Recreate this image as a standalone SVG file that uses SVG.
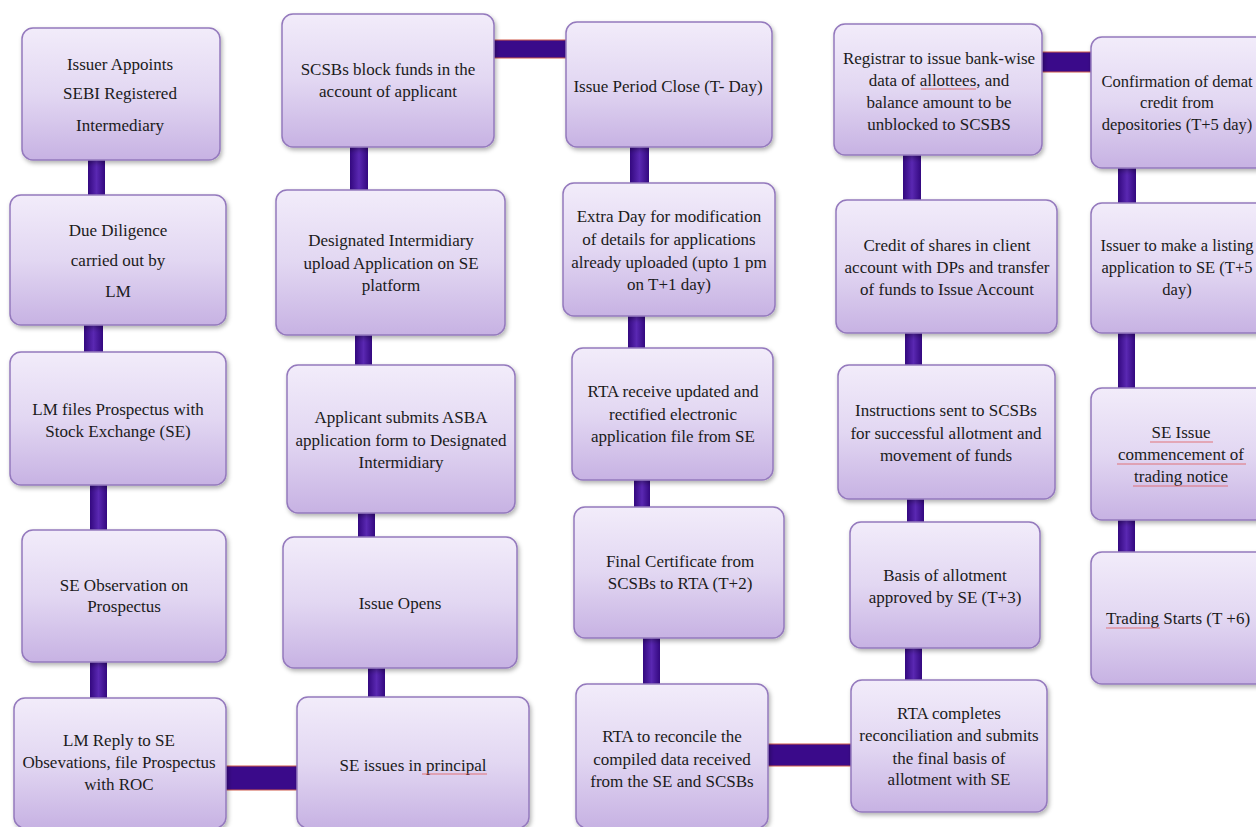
<svg xmlns="http://www.w3.org/2000/svg" width="1256" height="827" viewBox="0 0 1256 827">
<defs>
<linearGradient id="boxg" x1="0" y1="0" x2="0" y2="1">
<stop offset="0" stop-color="#f2ecfa"/>
<stop offset="0.5" stop-color="#e2d7f2"/>
<stop offset="1" stop-color="#c7b2e3"/>
</linearGradient>
<linearGradient id="vg" x1="0" y1="0" x2="1" y2="0">
<stop offset="0" stop-color="#33087f"/>
<stop offset="0.5" stop-color="#5a28b2"/>
<stop offset="1" stop-color="#33087f"/>
</linearGradient>
<filter id="sh" x="-10%" y="-10%" width="125%" height="125%">
<feDropShadow dx="1.5" dy="2.5" stdDeviation="2" flood-color="#000" flood-opacity="0.3"/>
</filter>
</defs>
<style>
.box{fill:url(#boxg);stroke:#9479bd;stroke-width:1.5;filter:url(#sh)}
.t{font-family:"Liberation Serif","Times New Roman",serif;font-size:17px;fill:#1b1b1b;text-anchor:middle}
.s{font-size:16.5px}
.v{fill:url(#vg)}
.h{fill:#3a0a8a;stroke:#d05a4a;stroke-width:1}
.sp{stroke:#e05a5a;stroke-width:1.2;fill:none;opacity:0.8}
</style>
<rect width="1256" height="827" fill="#ffffff"/>

<g id="connectors">
<rect class="v" x="88" y="158" width="17" height="40"/>
<rect class="v" x="84" y="323" width="19" height="32"/>
<rect class="v" x="90" y="483" width="17" height="50"/>
<rect class="v" x="90" y="660" width="17" height="41"/>
<rect class="h" x="224" y="766" width="76" height="24"/>
<rect class="v" x="350" y="145" width="18" height="48"/>
<rect class="v" x="355" y="333" width="17" height="35"/>
<rect class="v" x="358" y="511" width="17" height="29"/>
<rect class="v" x="368" y="666" width="17" height="34"/>
<rect class="h" x="492" y="40" width="76" height="18"/>
<rect class="v" x="630" y="145" width="19" height="41"/>
<rect class="v" x="628" y="314" width="17" height="37"/>
<rect class="v" x="634" y="478" width="16" height="32"/>
<rect class="v" x="643" y="636" width="17" height="51"/>
<rect class="h" x="766" y="744" width="88" height="22"/>
<rect class="v" x="903" y="153" width="18" height="50"/>
<rect class="v" x="905" y="331" width="17" height="37"/>
<rect class="v" x="907" y="497" width="17" height="28"/>
<rect class="v" x="905" y="646" width="17" height="37"/>
<rect class="h" x="1040" y="52" width="54" height="20"/>
<rect class="v" x="1118" y="166" width="18" height="40"/>
<rect class="v" x="1118" y="331" width="17" height="60"/>
<rect class="v" x="1118" y="518" width="17" height="37"/>
</g>

<g id="n1"><rect class="box" x="22" y="28" width="198" height="132" rx="11"/>
<text class="t" x="120" y="70">Issuer Appoints</text><text class="t" x="120" y="99">SEBI Registered</text><text class="t" x="120" y="131">Intermediary</text></g>
<g id="n2"><rect class="box" x="10" y="195" width="216" height="130" rx="11"/>
<text class="t" x="118" y="236">Due Diligence</text><text class="t" x="118" y="266">carried out by</text><text class="t" x="118" y="297">LM</text></g>
<g id="n3"><rect class="box" x="10" y="352" width="216" height="133" rx="11"/>
<text class="t" x="118" y="415">LM files Prospectus with</text><text class="t" x="118" y="437">Stock Exchange (SE)</text></g>
<g id="n4"><rect class="box" x="22" y="530" width="204" height="132" rx="11"/>
<text class="t" x="124" y="591">SE Observation on</text><text class="t" x="124" y="612">Prospectus</text></g>
<g id="n5"><rect class="box" x="14" y="698" width="212" height="130" rx="11"/>
<text class="t" x="119" y="746">LM Reply to SE</text><text class="t" x="119" y="768">Obsevations, file Prospectus</text><text class="t" x="119" y="790">with ROC</text></g>

<g id="n6"><rect class="box" x="282" y="14" width="212" height="133" rx="11"/>
<text class="t" x="388" y="75">SCSBs block funds in the</text><text class="t" x="388" y="97">account of applicant</text></g>
<g id="n7"><rect class="box" x="276" y="190" width="229" height="145" rx="11"/>
<text class="t" x="391" y="246">Designated Intermidiary</text><text class="t" x="391" y="269">upload Application on SE</text><text class="t" x="391" y="291">platform</text></g>
<g id="n8"><rect class="box" x="287" y="365" width="228" height="148" rx="11"/>
<text class="t" x="401" y="423">Applicant submits ASBA</text><text class="t" x="401" y="446">application form to Designated</text><text class="t" x="401" y="468">Intermidiary</text></g>
<g id="n9"><rect class="box" x="283" y="537" width="234" height="131" rx="11"/>
<text class="t" x="400" y="609">Issue Opens</text></g>
<g id="n10"><rect class="box" x="297" y="697" width="232" height="131" rx="11"/>
<text class="t" x="413" y="771">SE issues in principal</text>
<path class="sp" d="M422 774 L487 774"/></g>

<g id="n11"><rect class="box" x="566" y="22" width="206" height="125" rx="11"/>
<text class="t" x="668" y="92">Issue Period Close (T- Day)</text></g>
<g id="n12"><rect class="box" x="563" y="183" width="212" height="133" rx="11"/>
<text class="t" x="669" y="222">Extra Day for modification</text><text class="t" x="669" y="245">of details for applications</text><text class="t" x="669" y="268">already uploaded (upto 1 pm</text><text class="t" x="669" y="290">on T+1 day)</text></g>
<g id="n13"><rect class="box" x="572" y="348" width="201" height="132" rx="11"/>
<text class="t" x="673" y="397">RTA receive updated and</text><text class="t" x="673" y="420">rectified electronic</text><text class="t" x="673" y="442">application file from SE</text></g>
<g id="n14"><rect class="box" x="574" y="507" width="210" height="131" rx="11"/>
<text class="t" x="680" y="567">Final Certificate from</text><text class="t" x="680" y="589">SCSBs to RTA (T+2)</text></g>
<g id="n15"><rect class="box" x="576" y="684" width="192" height="144" rx="11"/>
<text class="t" x="672" y="742">RTA to reconcile the</text><text class="t" x="672" y="765">compiled data received</text><text class="t" x="672" y="787">from the SE and SCSBs</text></g>

<g id="n16"><rect class="box" x="834" y="24" width="208" height="131" rx="11"/>
<text class="t" x="939" y="64">Registrar to issue bank-wise</text><text class="t" x="939" y="86">data of allottees, and</text><text class="t" x="939" y="108">balance amount to be</text><text class="t" x="939" y="130">unblocked to SCSBS</text>
<path class="sp" d="M921 89 L976 89"/></g>
<g id="n17"><rect class="box" x="836" y="200" width="221" height="133" rx="11"/>
<text class="t" x="947" y="251">Credit of shares in client</text><text class="t" x="947" y="273">account with DPs and transfer</text><text class="t" x="947" y="295">of funds to Issue Account</text></g>
<g id="n18"><rect class="box" x="838" y="365" width="217" height="134" rx="11"/>
<text class="t" x="946" y="416">Instructions sent to SCSBs</text><text class="t" x="946" y="439">for successful allotment and</text><text class="t" x="946" y="461">movement of funds</text></g>
<g id="n19"><rect class="box" x="850" y="522" width="190" height="126" rx="11"/>
<text class="t" x="945" y="581">Basis of allotment</text><text class="t" x="945" y="603">approved by SE (T+3)</text></g>
<g id="n20"><rect class="box" x="851" y="680" width="196" height="132" rx="11"/>
<text class="t" x="949" y="719">RTA completes</text><text class="t" x="949" y="741">reconciliation and submits</text><text class="t" x="949" y="764">the final basis of</text><text class="t" x="949" y="785">allotment with SE</text></g>

<g id="n21"><rect class="box" x="1091" y="37" width="180" height="131" rx="11"/>
<text class="t s" x="1177" y="87">Confirmation of demat</text><text class="t s" x="1177" y="108">credit from</text><text class="t s" x="1177" y="130">depositories (T+5 day)</text></g>
<g id="n22"><rect class="box" x="1091" y="203" width="180" height="130" rx="11"/>
<text class="t s" x="1177" y="251">Issuer to make a listing</text><text class="t s" x="1177" y="273">application to SE (T+5</text><text class="t s" x="1177" y="295">day)</text></g>
<g id="n23"><rect class="box" x="1091" y="388" width="180" height="132" rx="11"/>
<text class="t" x="1181" y="438">SE Issue</text><text class="t" x="1181" y="460">commencement of</text><text class="t" x="1181" y="482">trading notice</text>
<path class="sp" d="M1150 442 L1213 442 M1117 464 L1246 464 M1133 486 L1228 486"/></g>
<g id="n24"><rect class="box" x="1091" y="552" width="180" height="132" rx="11"/>
<text class="t" x="1178" y="624">Trading Starts (T +6)</text>
<path class="sp" d="M1106 628 L1160 628"/></g>
</svg>
